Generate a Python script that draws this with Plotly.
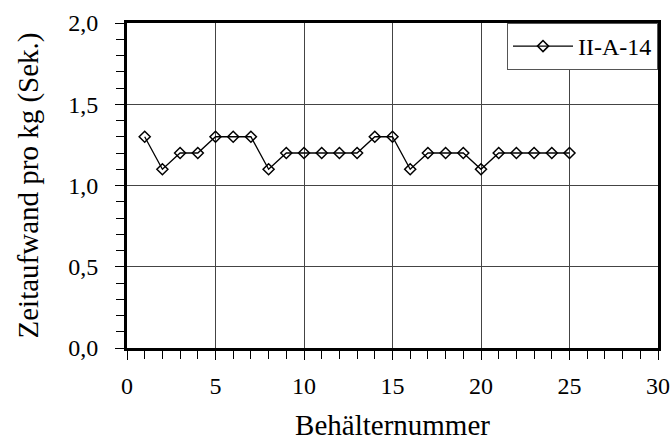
import plotly.graph_objects as go

behaelter = list(range(1, 26))
zeitaufwand = [1.3, 1.1, 1.2, 1.2, 1.3, 1.3, 1.3, 1.1, 1.2, 1.2, 1.2, 1.2, 1.2,
               1.3, 1.3, 1.1, 1.2, 1.2, 1.2, 1.1, 1.2, 1.2, 1.2, 1.2, 1.2]
series_name = "II-A-14"
x_ticks = [0, 5, 10, 15, 20, 25, 30]
y_ticks = [0.0, 0.5, 1.0, 1.5, 2.0]
y_ticklabels = ["0,0", "0,5", "1,0", "1,5", "2,0"]

font_family = "Liberation Serif"

fig = go.Figure()
fig.add_trace(go.Scatter(
    x=behaelter, y=zeitaufwand, name=series_name, mode="lines+markers",
    line=dict(color="black", width=1.3),
    marker=dict(symbol="diamond-open", size=8.5, color="black", line=dict(width=1.5, color="black")),
    showlegend=True,
))

fig.update_layout(
    width=670, height=441,
    margin=dict(l=127, r=12, t=23, b=93, autoexpand=False),
    paper_bgcolor="white", plot_bgcolor="white",
    font=dict(family=font_family, size=24, color="black"),
    legend=dict(x=1, y=1, xanchor="right", yanchor="top",
                bordercolor="#555", borderwidth=1, bgcolor="white",
                font=dict(size=24, family=font_family), itemwidth=60),
    xaxis2=dict(overlaying="x", anchor="y", side="bottom", range=[0, 30],
                showgrid=False, showticklabels=False, ticks="", showline=False,
                zeroline=False, automargin=False,
                minor=dict(dtick=1, ticks="inside", ticklen=6,
                           tickwidth=1, tickcolor="black", showgrid=False)),
    yaxis2=dict(overlaying="y", anchor="x", side="left", range=[0, 2],
                showgrid=False, showticklabels=False, ticks="", showline=False,
                zeroline=False, automargin=False,
                minor=dict(dtick=0.1, ticks="inside", ticklen=6,
                           tickwidth=1, tickcolor="black", showgrid=False)),
)
fig.layout.xaxis.update(
    range=[0, 30], tickvals=x_ticks, ticks="outside", ticklen=9, tickwidth=1,
    tickcolor="black", showline=True, linecolor="black", linewidth=3, mirror=True,
    showgrid=True, gridcolor="#444", gridwidth=1, zeroline=False, automargin=False,
    minor=dict(dtick=1, ticks="outside", ticklen=8, tickwidth=1, tickcolor="black", showgrid=False),
    title=dict(text="Behälternummer", font=dict(size=29, family=font_family), standoff=24),
    tickfont=dict(size=24, family=font_family), ticklabelstandoff=5,
)
fig.layout.yaxis.update(
    range=[0, 2], tickvals=y_ticks, ticktext=y_ticklabels, ticks="outside", ticklen=9,
    tickwidth=1, tickcolor="black", showline=True, linecolor="black", linewidth=3,
    mirror=True, showgrid=True, gridcolor="#444", gridwidth=1, zeroline=False, automargin=False,
    minor=dict(dtick=0.1, ticks="outside", ticklen=8, tickwidth=1, tickcolor="black", showgrid=False),
    title=dict(text="Zeitaufwand pro kg (Sek.)", font=dict(size=29, family=font_family), standoff=22),
    tickfont=dict(size=24, family=font_family), ticklabelstandoff=12,
)

fig.write_html("out.html")
